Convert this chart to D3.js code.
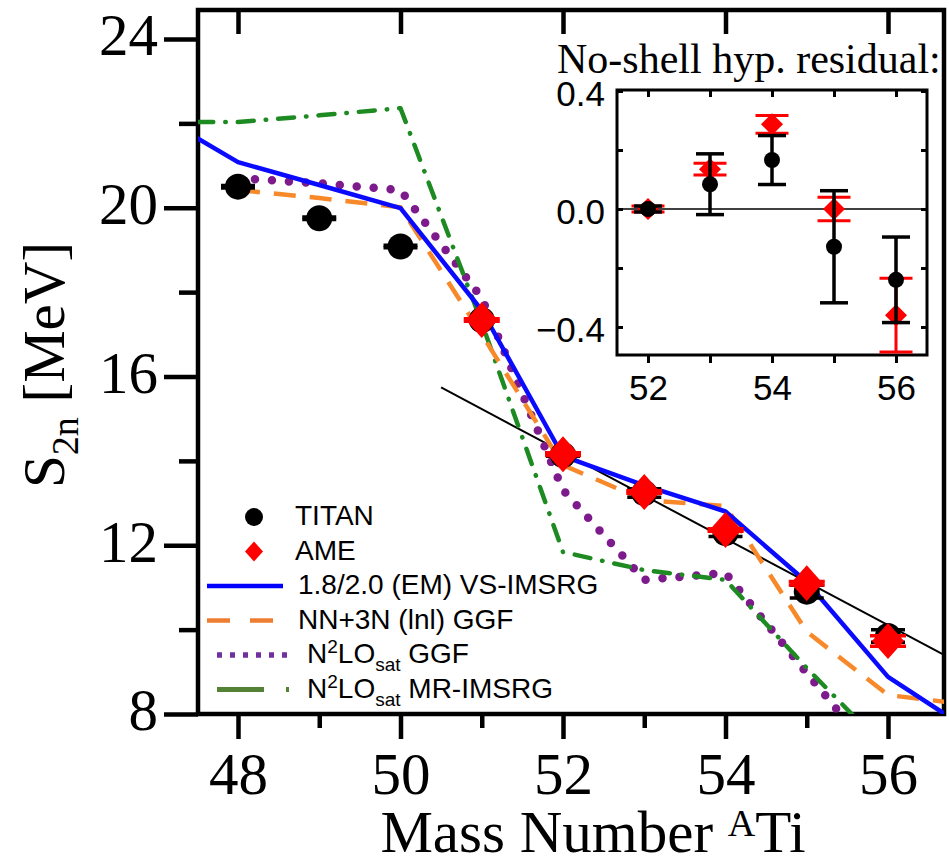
<!DOCTYPE html>
<html>
<head>
<meta charset="utf-8">
<script src="https://cdn.jsdelivr.net/npm/d3@7"></script>
<style>
  body { margin: 0; background: #fff; }
  svg { display: block; }
</style>
</head>
<body>
<svg id="chart" width="949" height="859"></svg>
<script>
// two-neutron separation energies of Ti isotopes, MeV
const massNumbers = [48, 49, 50, 51, 52, 53, 54, 55, 56];
const titanS2n = [20.5, 19.75, 19.08, 17.34, 14.14, 13.24, 12.29, 10.9, 9.85];
const titanErr = [0.03, 0.03, 0.03, 0.03, 0.03, 0.1, 0.08, 0.15, 0.15];

const ameMass = [51, 52, 53, 54, 55, 56];
const ameS2n = [17.34, 14.16, 13.26, 12.36, 11.1, 9.73];
const ameErr = [0.03, 0.03, 0.03, 0.03, 0.04, 0.125];

// theory curves
const vsImsrgMass = [47, 48, 49, 50, 51, 52, 53, 54, 55, 56, 57];
const vsImsrgS2n = [22.22, 21.08, 20.54, 19.99, 17.57, 14.11, 13.42, 12.8, 11.13, 8.88, 7.62];

const ggfLnlMass = [48, 49, 50, 51, 52, 53, 54, 55, 56, 57];
const ggfLnlS2n = [20.42, 20.23, 20.01, 17.0, 13.9, 13.07, 12.93, 9.95, 8.45, 8.22];

const ggfSatMass = [48, 49, 50, 51, 52, 53, 54, 55, 56];
const ggfSatS2n = [20.7, 20.58, 20.42, 17.86, 13.31, 11.18, 11.34, 8.97, 6.65];

const mrImsrgMass = [47, 48, 49, 50, 51, 52, 53, 54, 55, 56];
const mrImsrgS2n = [22.03, 22.03, 22.19, 22.36, 17.27, 11.84, 11.41, 11.18, 9.09, 7.12];

// no-shell linear fit
const fitMass = [50.5, 56.69];
const fitS2n = [15.74, 9.4];

// inset: residuals from the no-shell fit, MeV
const residualMass = [52, 53, 54, 55, 56];
const titanResidual = [0.0, 0.084, 0.166, -0.128, -0.24];
const titanResidualErr = [0.01, 0.103, 0.083, 0.19, 0.145];
const ameResidual = [0.0, 0.135, 0.287, 0.0, -0.36];
const ameResidualErr = [0.01, 0.02, 0.03, 0.04, 0.125];

const yTicks = [8, 12, 16, 20, 24];
const yMinorTicks = [10, 14, 18, 22];
const xTicks = [48, 50, 52, 54, 56];
const xMinorTicks = [49, 51, 53, 55];
const insetYTicks = [-0.4, 0.0, 0.4];
const insetYMinorTicks = [-0.2, 0.2];
const insetXTicks = [52, 54, 56];
const insetXMinorTicks = [53, 55];

const legendLabels = ['TITAN', 'AME', '1.8/2.0 (EM) VS-IMSRG', 'NN+3N (lnl) GGF', 'N²LO_sat GGF', 'N²LO_sat MR-IMSRG'];

const serif = '"Liberation Serif", "Times New Roman", serif';
const sans = '"Liberation Sans", Arial, sans-serif';

const svg = d3.select('#chart');
const plot = { left: 198, right: 944, top: 10, bottom: 714 };

const x = d3.scaleLinear().domain([48, 56]).range([238, 888]);
const y = d3.scaleLinear().domain([8, 24]).range([714, 39]);

svg.append('defs').append('clipPath').attr('id', 'plotClip')
  .append('rect')
  .attr('x', plot.left).attr('y', plot.top)
  .attr('width', plot.right - plot.left).attr('height', plot.bottom - plot.top);

function styleTicks(g, w) {
  g.select('.domain').remove();
  g.selectAll('.tick line').attr('stroke', '#000').attr('stroke-width', w);
}

// y axis
svg.append('g')
  .attr('transform', `translate(${plot.left},0)`)
  .call(d3.axisLeft(y).tickValues(yTicks).tickSize(34).tickPadding(6).tickFormat(d3.format('d')))
  .call(g => styleTicks(g, 4.5))
  .call(g => g.selectAll('text').attr('dy', '0.27em').style('font-family', serif).style('font-size', '59px').attr('fill', '#000'));
svg.append('g')
  .attr('transform', `translate(${plot.left},0)`)
  .call(d3.axisLeft(y).tickValues(yMinorTicks).tickSize(19).tickFormat(''))
  .call(g => styleTicks(g, 4.5));

// x axis
svg.append('g')
  .attr('transform', `translate(0,${plot.bottom})`)
  .call(d3.axisBottom(x).tickValues(xTicks).tickSize(25).tickPadding(13).tickFormat(d3.format('d')))
  .call(g => styleTicks(g, 4.5))
  .call(g => g.selectAll('text').style('font-family', serif).style('font-size', '59px').attr('fill', '#000'));
svg.append('g')
  .attr('transform', `translate(0,${plot.bottom})`)
  .call(d3.axisBottom(x).tickValues(xMinorTicks).tickSize(14).tickFormat(''))
  .call(g => styleTicks(g, 4.5));
svg.append('g')
  .attr('transform', `translate(0,${plot.top})`)
  .call(d3.axisTop(x).tickValues(xTicks).tickSize(-24).tickFormat(''))
  .call(g => styleTicks(g, 4.5));

// frame
svg.append('rect')
  .attr('x', plot.left).attr('y', plot.top)
  .attr('width', plot.right - plot.left).attr('height', plot.bottom - plot.top)
  .attr('fill', 'none').attr('stroke', '#000').attr('stroke-width', 4.5);

// axis titles
const yTitle = svg.append('text')
  .attr('transform', 'translate(64,365) rotate(-90)')
  .attr('text-anchor', 'middle')
  .style('font-family', serif).style('font-size', '59px');
yTitle.append('tspan').text('S');
yTitle.append('tspan').attr('dy', 14).style('font-size', '38px').text('2n');
yTitle.append('tspan').attr('dy', -14).text(' [MeV]');

const xTitle = svg.append('text')
  .attr('x', 593).attr('y', 852)
  .attr('text-anchor', 'middle')
  .style('font-family', serif).style('font-size', '59px');
xTitle.append('tspan').text('Mass Number ');
xTitle.append('tspan').attr('dy', -16).style('font-size', '38px').text('A');
xTitle.append('tspan').attr('dy', 16).text('Ti');

// curves
const series = [
  { mass: fitMass, s2n: fitS2n, color: '#000', width: 2, dash: null, cap: 'butt' },
  { mass: ggfSatMass, s2n: ggfSatS2n, color: '#7d1a8c', width: 8.5, dash: '0,17', cap: 'round' },
  { mass: mrImsrgMass, s2n: mrImsrgS2n, color: '#1e8a22', width: 4.5, dash: '16,12,0.5,12', cap: 'round' },
  { mass: ggfLnlMass, s2n: ggfLnlS2n, color: '#f7892a', width: 4.5, dash: '22,14', cap: 'butt' },
  { mass: vsImsrgMass, s2n: vsImsrgS2n, color: '#0a0aff', width: 4.5, dash: null, cap: 'butt' }
];
const line = d3.line().x(d => x(d[0])).y(d => y(d[1]));
const curves = svg.append('g').attr('clip-path', 'url(#plotClip)');
series.forEach(s => {
  curves.append('path')
    .datum(d3.zip(s.mass, s.s2n))
    .attr('d', line)
    .attr('fill', 'none')
    .attr('stroke', s.color)
    .attr('stroke-width', s.width)
    .attr('stroke-dasharray', s.dash)
    .attr('stroke-linecap', s.cap)
    .attr('stroke-linejoin', 'round');
});

function errorBars(g, xs, ys, errs, xScale, yScale, color, capW, w) {
  xs.forEach((m, i) => {
    const cx = xScale(m), y1 = yScale(ys[i] - errs[i]), y2 = yScale(ys[i] + errs[i]);
    g.append('line').attr('x1', cx).attr('x2', cx).attr('y1', y1).attr('y2', y2)
      .attr('stroke', color).attr('stroke-width', w);
    [y1, y2].forEach(yy => g.append('line')
      .attr('x1', cx - capW / 2).attr('x2', cx + capW / 2).attr('y1', yy).attr('y2', yy)
      .attr('stroke', color).attr('stroke-width', w));
  });
}
const diamond = (hw, hh) => `M0,${-hh}L${hw},0L0,${hh}L${-hw},0Z`;

// TITAN
const marks = svg.append('g');
errorBars(marks, massNumbers, titanS2n, titanErr, x, y, '#000', 34, 3.5);
marks.selectAll('circle.titan')
  .data(d3.zip(massNumbers, titanS2n))
  .enter().append('circle')
  .attr('class', 'titan')
  .attr('cx', d => x(d[0])).attr('cy', d => y(d[1]))
  .attr('r', 13).attr('fill', '#000');

// AME
errorBars(marks, ameMass, ameS2n, ameErr, x, y, '#ff0000', 36, 3.5);
marks.selectAll('path.ame')
  .data(d3.zip(ameMass, ameS2n))
  .enter().append('path')
  .attr('class', 'ame')
  .attr('d', diamond(16, 18))
  .attr('transform', d => `translate(${x(d[0])},${y(d[1])})`)
  .attr('fill', '#ff0000');

// inset
const inset = { left: 617, right: 927, top: 90, bottom: 355 };
const xi = d3.scaleLinear().domain([52, 56]).range([648, 896]);
const yi = d3.scaleLinear().domain([-0.4, 0.4]).range([327, 91]);
const ig = svg.append('g');

ig.append('line')
  .attr('x1', inset.left).attr('x2', inset.right)
  .attr('y1', yi(0)).attr('y2', yi(0))
  .attr('stroke', '#000').attr('stroke-width', 1.5);

ig.append('g').attr('transform', `translate(${inset.left},0)`)
  .call(d3.axisLeft(yi).tickValues(insetYTicks).tickSize(-6).tickPadding(12).tickFormat(d3.format('.1f')))
  .call(g => styleTicks(g, 3))
  .call(g => g.selectAll('text').attr('x', -12).attr('dy', '0.42em').style('font-family', sans).style('font-size', '35px').attr('fill', '#000'));
ig.append('g').attr('transform', `translate(${inset.left},0)`)
  .call(d3.axisLeft(yi).tickValues(insetYMinorTicks).tickSize(-6).tickFormat(''))
  .call(g => styleTicks(g, 3));
ig.append('g').attr('transform', `translate(${inset.right},0)`)
  .call(d3.axisRight(yi).tickValues(insetYTicks.concat(insetYMinorTicks)).tickSize(-6).tickFormat(''))
  .call(g => styleTicks(g, 3));
ig.append('g').attr('transform', `translate(0,${inset.bottom})`)
  .call(d3.axisBottom(xi).tickValues(insetXTicks).tickSize(8).tickPadding(12).tickFormat(d3.format('d')))
  .call(g => styleTicks(g, 3))
  .call(g => g.selectAll('text').style('font-family', sans).style('font-size', '35px').attr('fill', '#000'));
ig.append('g').attr('transform', `translate(0,${inset.bottom})`)
  .call(d3.axisBottom(xi).tickValues(insetXMinorTicks).tickSize(8).tickFormat(''))
  .call(g => styleTicks(g, 3));
ig.append('g').attr('transform', `translate(0,${inset.top})`)
  .call(d3.axisTop(xi).tickValues(insetXTicks.concat(insetXMinorTicks)).tickSize(-7).tickFormat(''))
  .call(g => styleTicks(g, 3));
ig.append('rect')
  .attr('x', inset.left).attr('y', inset.top)
  .attr('width', inset.right - inset.left).attr('height', inset.bottom - inset.top)
  .attr('fill', 'none').attr('stroke', '#000').attr('stroke-width', 3);

errorBars(ig, residualMass, ameResidual, ameResidualErr, xi, yi, '#ff0000', 33, 3);
ig.selectAll('path.ame')
  .data(d3.zip(residualMass, ameResidual))
  .enter().append('path')
  .attr('class', 'ame')
  .attr('d', diamond(11, 11))
  .attr('transform', d => `translate(${xi(d[0])},${yi(d[1])})`)
  .attr('fill', '#ff0000');
errorBars(ig, residualMass, titanResidual, titanResidualErr, xi, yi, '#000', 28, 3.5);
ig.selectAll('circle.titan')
  .data(d3.zip(residualMass, titanResidual))
  .enter().append('circle')
  .attr('class', 'titan')
  .attr('cx', d => xi(d[0])).attr('cy', d => yi(d[1]))
  .attr('r', 8).attr('fill', '#000');

svg.append('text')
  .attr('x', 557).attr('y', 73)
  .style('font-family', serif).style('font-size', '42px')
  .text('No-shell hyp. residual:');

// legend
const legend = svg.append('g').style('font-family', sans).style('font-size', '28px');
const rowY = i => 517 + i * 34.5;
legend.append('circle').attr('cx', 254).attr('cy', rowY(0)).attr('r', 9).attr('fill', '#000');
legend.append('path').attr('d', diamond(9, 10)).attr('transform', `translate(254,${rowY(1)})`).attr('fill', '#ff0000');
const legendLines = [
  { x1: 207, x2: 283, color: '#0000ff', width: 4.5, dash: null },
  { x1: 207, x2: 273, color: '#ed7d31', width: 4.5, dash: '23,20' },
  { x1: 217, x2: 294, color: '#7030a0', width: 5.5, dash: '5,8' },
  { x1: 217, x2: 289, color: '#548235', width: 5, dash: '47,22,3,100' }
];
legendLines.forEach((l, i) => {
  legend.append('line')
    .attr('x1', l.x1).attr('x2', l.x2)
    .attr('y1', rowY(i + 2)).attr('y2', rowY(i + 2))
    .attr('stroke', l.color).attr('stroke-width', l.width)
    .attr('stroke-dasharray', l.dash);
});
const textX = [295, 295, 298, 298, 307, 307];
legendLabels.forEach((label, i) => {
  const t = legend.append('text').attr('x', textX[i]).attr('y', rowY(i) + 8).attr('fill', '#000');
  const m = label.match(/^N²LO_sat (.*)$/);
  if (m) {
    t.append('tspan').text('N');
    t.append('tspan').attr('dy', -10).style('font-size', '19px').text('2');
    t.append('tspan').attr('dy', 10).text('LO');
    t.append('tspan').attr('dy', 8).style('font-size', '19px').text('sat');
    t.append('tspan').attr('dy', -8).text(' ' + m[1]);
  } else {
    t.text(label);
  }
});
</script>
</body>
</html>
